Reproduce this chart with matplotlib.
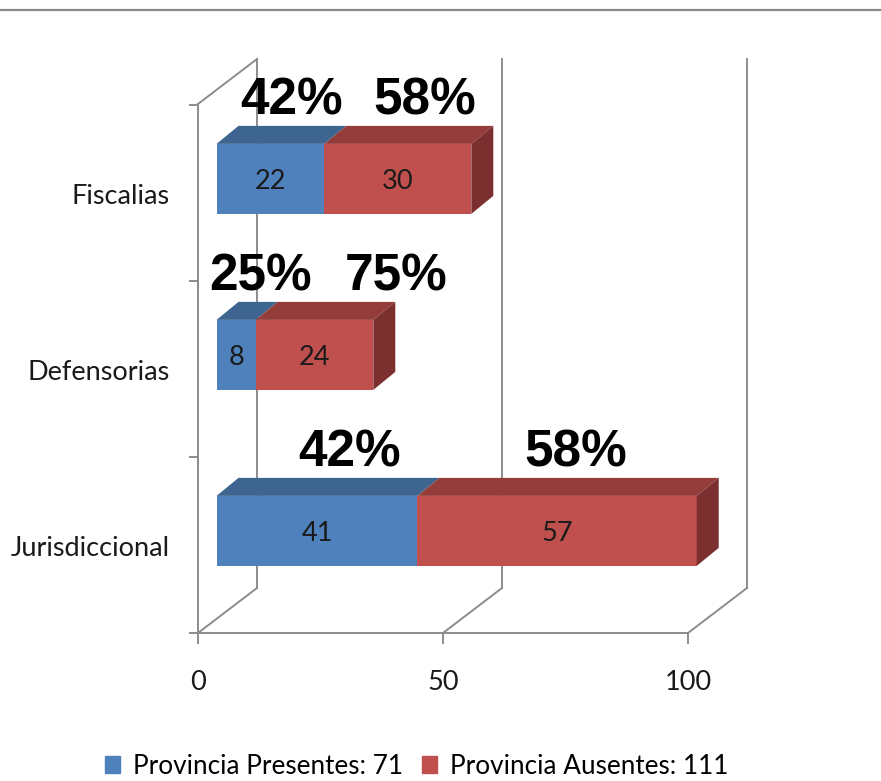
import matplotlib.pyplot as plt
from matplotlib.patches import Polygon, Patch

# data (bottom to top)
categories = ["Jurisdiccional", "Defensorias", "Fiscalias"]
presentes = [41, 8, 22]
ausentes = [57, 24, 30]
pct_presentes = ["42%", "25%", "42%"]
pct_ausentes = ["58%", "75%", "58%"]
x_ticks = [0, 50, 100]
legend_labels = ["Provincia Presentes: 71", "Provincia Ausentes: 111"]

# layout (x in data units, y in pixels from top)
PX = 4.9                      # pixels per data unit
X0 = 198                      # pixel of value 0 on the front floor
FLOOR_Y = 633
TOP_Y = 104
SLOT = 176
WALL_DX, WALL_DY = 59 / PX, -45
BAR_DX, BAR_DY = 22 / PX, -18
BAR_H = 70
pct_x_presentes = [31.0, 12.7, 19.0]
pct_x_ausentes = [77.1, 40.4, 46.3]

BLUE = ("#4f81bd", "#3d6590", "#35577c")
RED = ("#c0504d", "#943c3a", "#7b302f")
GRID = "#8c8c8c"
LABEL_FONT = ["Lato", "DejaVu Sans"]
FS = 19.5


def main():
    fig = plt.figure(figsize=(8.81, 7.81), dpi=100)
    ax = fig.add_axes([0, 0, 1, 1])
    ax.set_xlim(-X0 / PX, (881 - X0) / PX)
    ax.set_ylim(781, 0)
    ax.axis("off")

    ax.axhline(10, color="#8a8a8a", lw=1.6)

    # ---- walls / grid ----
    back_floor = FLOOR_Y + WALL_DY
    back_top = TOP_Y + WALL_DY
    for v in x_ticks:
        ax.plot([v, v + WALL_DX], [FLOOR_Y, back_floor], color=GRID, lw=1.4, zorder=1)
        ax.plot([v + WALL_DX] * 2, [back_floor, back_top], color=GRID, lw=1.4, zorder=1)
        ax.plot([v, v], [FLOOR_Y, FLOOR_Y + 10], color=GRID, lw=1.4, zorder=1)
        ax.text(v, 682, str(v), ha="center", va="center", fontsize=FS,
                family=LABEL_FONT, color="#1a1a1a")
    ax.plot([0, x_ticks[-1]], [FLOOR_Y, FLOOR_Y], color=GRID, lw=1.4, zorder=1)
    ax.plot([0, 0], [FLOOR_Y, TOP_Y], color=GRID, lw=1.4, zorder=1)
    ax.plot([0, WALL_DX], [TOP_Y, back_top], color=GRID, lw=1.4, zorder=1)
    for i in range(len(categories) + 1):
        y = FLOOR_Y - i * SLOT
        ax.plot([-8 / PX, 0], [y, y], color=GRID, lw=1.4, zorder=1)

    # ---- bars ----
    frac = (WALL_DX - BAR_DX) / 2 / WALL_DX
    bx0 = frac * WALL_DX
    by_off = frac * WALL_DY
    for i, cat in enumerate(categories):
        slot_c = FLOOR_Y - (i + 0.5) * SLOT
        yc = slot_c + by_off
        yt, yb = yc - BAR_H / 2, yc + BAR_H / 2
        segs = [(bx0, presentes[i], BLUE), (bx0 + presentes[i], ausentes[i], RED)]
        for left, w, cols in segs:
            ax.barh(yc, w, left=left, height=BAR_H, color=cols[0], zorder=3)
            x1 = left + w
            ax.add_patch(Polygon([(left, yt), (x1, yt), (x1 + BAR_DX, yt + BAR_DY),
                                  (left + BAR_DX, yt + BAR_DY)],
                                 closed=True, color=cols[1], zorder=3, lw=0))
            ax.text(left + w / 2, yc + 3, str(w), ha="center", va="center",
                    fontsize=FS, family=LABEL_FONT, color="#1a1a1a", zorder=5)
        x_end = bx0 + presentes[i] + ausentes[i]
        ax.add_patch(Polygon([(x_end, yt), (x_end + BAR_DX, yt + BAR_DY),
                              (x_end + BAR_DX, yb + BAR_DY), (x_end, yb)],
                             closed=True, color=RED[2], zorder=3, lw=0))

        ax.text(-28 / PX, slot_c + 3, cat, ha="right", va="center", fontsize=FS,
                family=LABEL_FONT, color="#1a1a1a")

        ax.text(pct_x_presentes[i], yt - 43, pct_presentes[i], ha="center", va="center",
                fontsize=37, fontweight="bold", family="Liberation Sans", zorder=6)
        ax.text(pct_x_ausentes[i], yt - 43, pct_ausentes[i], ha="center", va="center",
                fontsize=37, fontweight="bold", family="Liberation Sans", zorder=6)

    handles = [Patch(color=BLUE[0]), Patch(color=RED[0])]
    fig.legend(handles, legend_labels, loc="center", bbox_to_anchor=(0.473, 0.019),
               ncol=2, frameon=False, handlelength=0.6, handleheight=0.6,
               handletextpad=0.5, columnspacing=0.7,
               prop={"family": LABEL_FONT, "size": 18.8})

    fig.savefig("out.png", dpi=100)
    plt.close(fig)


if __name__ == "__main__":
    main()
